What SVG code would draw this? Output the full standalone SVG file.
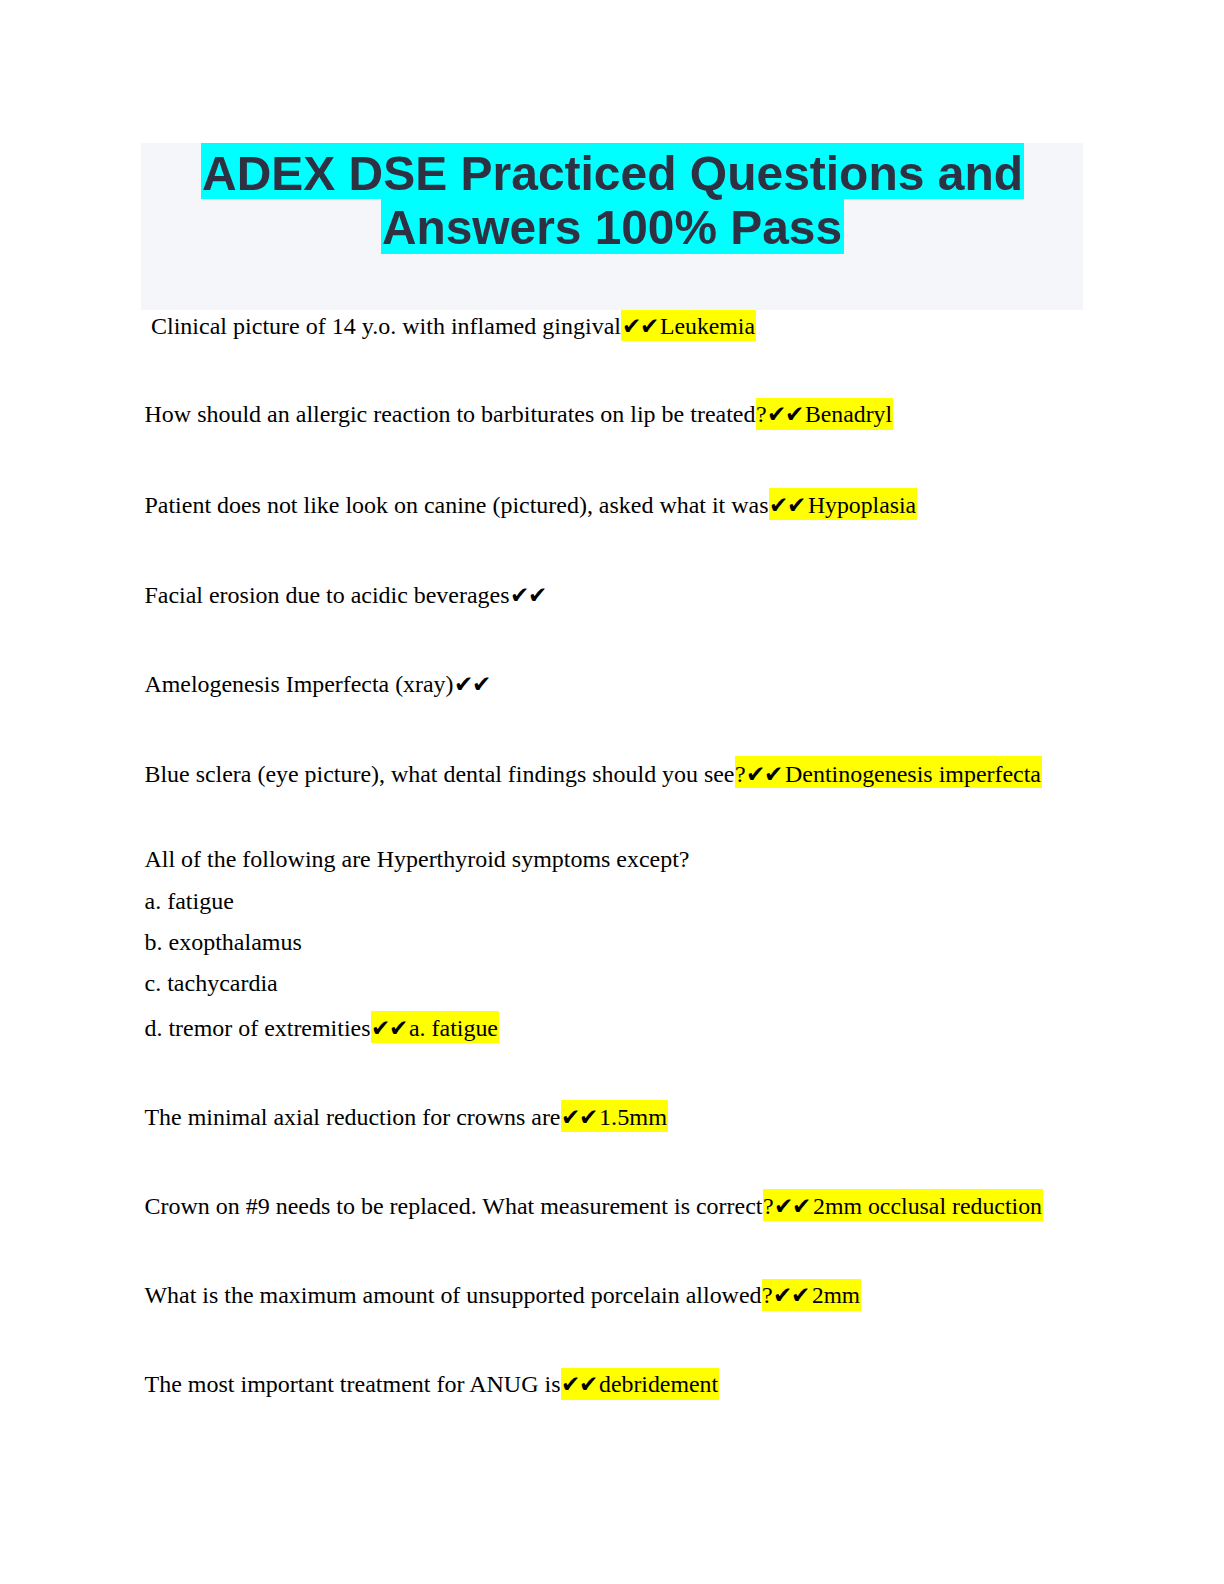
<svg xmlns="http://www.w3.org/2000/svg" width="1224" height="1584" viewBox="0 0 1224 1584">
<style>
.t{font-family:"Liberation Serif","Times New Roman",serif;font-size:24px;fill:#000}
.ck{font-family:"DejaVu Sans",sans-serif;font-size:23px;fill:#000}
.hl{fill:#ffff00}
.ti{font-family:"Liberation Sans",Arial,sans-serif;font-weight:bold;font-size:49px;fill:#2e3142}
</style>
<rect width="1224" height="1584" fill="#fff"/>
<g id="title">
<rect x="141" y="143" width="942" height="167" fill="#f5f6fa"/>
<rect x="201" y="143" width="823" height="56" fill="#00ffff"/>
<rect x="381" y="199" width="463" height="55" fill="#00ffff"/>
<text class="ti" x="202" y="190" textLength="821" lengthAdjust="spacingAndGlyphs">ADEX DSE Practiced Questions and</text>
<text class="ti" x="382" y="244" textLength="460" lengthAdjust="spacingAndGlyphs">Answers 100% Pass</text>
</g>
<g id="highlights">
<rect class="hl" x="621" y="310" width="135" height="31"/>
<rect class="hl" x="756" y="398" width="137" height="32"/>
<rect class="hl" x="769" y="488" width="148" height="32"/>
<rect class="hl" x="735" y="756" width="307" height="32"/>
<rect class="hl" x="371" y="1011" width="128" height="32"/>
<rect class="hl" x="561" y="1100" width="107" height="32"/>
<rect class="hl" x="763" y="1189" width="280" height="32"/>
<rect class="hl" x="762" y="1279" width="99" height="32"/>
<rect class="hl" x="561" y="1368" width="158" height="32"/>
</g>
<g id="q1">
<text class="t" x="151" y="334" textLength="470" lengthAdjust="spacingAndGlyphs">Clinical picture of 14 y.o. with inflamed gingival</text>
<text class="ck" x="622 640" y="334">✔✔</text>
<text class="t" x="660" y="334" textLength="95" lengthAdjust="spacingAndGlyphs">Leukemia</text>
</g>
<g id="q2">
<text class="t" x="144.5" y="422" textLength="611" lengthAdjust="spacingAndGlyphs">How should an allergic reaction to barbiturates on lip be treated</text>
<text class="t" x="756" y="422">?</text>
<text class="ck" x="767 785" y="422">✔✔</text>
<text class="t" x="805" y="422" textLength="87" lengthAdjust="spacingAndGlyphs">Benadryl</text>
</g>
<g id="q3">
<text class="t" x="144.5" y="513" textLength="624" lengthAdjust="spacingAndGlyphs">Patient does not like look on canine (pictured), asked what it was</text>
<text class="ck" x="769 787" y="513">✔✔</text>
<text class="t" x="808" y="513" textLength="108" lengthAdjust="spacingAndGlyphs">Hypoplasia</text>
</g>
<g id="q4">
<text class="t" x="144.5" y="603" textLength="365" lengthAdjust="spacingAndGlyphs">Facial erosion due to acidic beverages</text>
<text class="ck" x="510 528" y="603">✔✔</text>
</g>
<g id="q5">
<text class="t" x="144.5" y="692" textLength="309" lengthAdjust="spacingAndGlyphs">Amelogenesis Imperfecta (xray)</text>
<text class="ck" x="454 472" y="692">✔✔</text>
</g>
<g id="q6">
<text class="t" x="144.5" y="782" textLength="590" lengthAdjust="spacingAndGlyphs">Blue sclera (eye picture), what dental findings should you see</text>
<text class="t" x="735" y="782">?</text>
<text class="ck" x="746 764" y="782">✔✔</text>
<text class="t" x="785" y="782" textLength="256" lengthAdjust="spacingAndGlyphs">Dentinogenesis imperfecta</text>
</g>
<g id="q7">
<text class="t" x="144.5" y="867" textLength="545" lengthAdjust="spacingAndGlyphs">All of the following are Hyperthyroid symptoms except?</text>
<text class="t" x="144.5" y="909">a. fatigue</text>
<text class="t" x="144.5" y="950">b. exopthalamus</text>
<text class="t" x="144.5" y="991">c. tachycardia</text>
<text class="t" x="144.5" y="1036" textLength="226" lengthAdjust="spacingAndGlyphs">d. tremor of extremities</text>
<text class="ck" x="371 389" y="1036">✔✔</text>
<text class="t" x="409" y="1036" textLength="89" lengthAdjust="spacingAndGlyphs">a. fatigue</text>
</g>
<g id="q8">
<text class="t" x="144.5" y="1125" textLength="416" lengthAdjust="spacingAndGlyphs">The minimal axial reduction for crowns are</text>
<text class="ck" x="561 579" y="1125">✔✔</text>
<text class="t" x="599" y="1125" textLength="68" lengthAdjust="spacingAndGlyphs">1.5mm</text>
</g>
<g id="q9">
<text class="t" x="144.5" y="1214" textLength="618" lengthAdjust="spacingAndGlyphs">Crown on #9 needs to be replaced. What measurement is correct</text>
<text class="t" x="763" y="1214">?</text>
<text class="ck" x="774 792" y="1214">✔✔</text>
<text class="t" x="813" y="1214" textLength="229" lengthAdjust="spacingAndGlyphs">2mm occlusal reduction</text>
</g>
<g id="q10">
<text class="t" x="144.5" y="1303" textLength="617" lengthAdjust="spacingAndGlyphs">What is the maximum amount of unsupported porcelain allowed</text>
<text class="t" x="762" y="1303">?</text>
<text class="ck" x="773 791" y="1303">✔✔</text>
<text class="t" x="812" y="1303" textLength="48" lengthAdjust="spacingAndGlyphs">2mm</text>
</g>
<g id="q11">
<text class="t" x="144.5" y="1392" textLength="416" lengthAdjust="spacingAndGlyphs">The most important treatment for ANUG is</text>
<text class="ck" x="561 579" y="1392">✔✔</text>
<text class="t" x="599" y="1392" textLength="119" lengthAdjust="spacingAndGlyphs">debridement</text>
</g>
</svg>
